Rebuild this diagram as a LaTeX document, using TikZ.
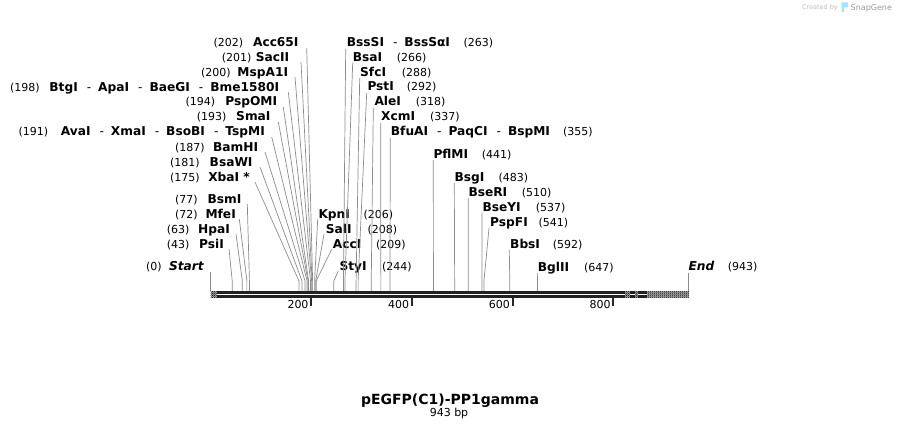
\documentclass[tikz,border=0pt]{standalone}
\usepackage{fontspec}
\setmainfont{DejaVu Sans}
\usetikzlibrary{patterns}
\pgfdeclarepatternformonly{finecheck}{\pgfqpoint{0pt}{0pt}}{\pgfqpoint{2pt}{2pt}}{\pgfqpoint{2pt}{2pt}}{%
  \pgfpathrectangle{\pgfqpoint{0pt}{0pt}}{\pgfqpoint{1pt}{1pt}}%
  \pgfpathrectangle{\pgfqpoint{1pt}{1pt}}{\pgfqpoint{1pt}{1pt}}%
  \pgfusepath{fill}}
\newcommand\sepd{\hspace{9pt}{\mdseries -}\hspace{7pt}}
\newcommand\Lsite[9]{%
  \node[nm,anchor=base east] (#1) at (#3,#2) {#4};
  \node[num,anchor=base west] (#1n) at (#5,#2) {(#6)};
  \coordinate (#1t) at (#7,#8);
  \coordinate (#1k) at ({210.5+0.5055*#9},281);
  \coordinate (#1b) at ({210.5+0.5055*#9},290.8);
  \draw[cut] (#1t) -- (#1k) -- (#1b);
}
\newcommand\Rsite[9]{%
  \node[nm,anchor=base west] (#1) at (#3,#2) {#4};
  \node[num,anchor=base west] (#1n) at (#5,#2) {(#6)};
  \coordinate (#1t) at (#7,#8);
  \coordinate (#1k) at ({210.5+0.5055*#9},281);
  \coordinate (#1b) at ({210.5+0.5055*#9},290.8);
  \draw[cut] (#1t) -- (#1k) -- (#1b);
}
\newcommand\Tick[1]{%
  \coordinate (tk#1a) at ({210.5+0.5035*#1},297.5);
  \coordinate (tk#1b) at ({210.5+0.5035*#1},305.5);
  \draw[line width=2pt,black!85] (tk#1a) -- (tk#1b);
  \node[num,anchor=base east] (tl#1) at ({208+0.5035*#1},308.3) {#1};
}
\begin{document}
\begin{tikzpicture}[x=1pt,y=-1pt,
  nm/.style={inner sep=0pt,font=\fontsize{12.2}{14}\selectfont\bfseries},
  num/.style={inner sep=0pt,font=\fontsize{11}{13}\selectfont},
  cut/.style={draw=black!45,line width=0.7pt},
  strand/.style={fill=black!87},
  checker/.style={fill=black!35,postaction={pattern=finecheck,pattern color=black!90}}]
\useasboundingbox[fill=white] (0,0) rectangle (899,430);

% left fan
\Lsite{acc}{46.5}{298.7}{Acc65I}{213.3}{202}{306.7}{48.3}{202}
\Lsite{sac}{61.5}{289.3}{SacII}{221.7}{201}{301}{62}{201}
\Lsite{msp}{76.5}{288.3}{MspA1I}{201}{200}{295}{77}{200}
\Lsite{btg}{91.3}{279.3}{BtgI\sepd ApaI\sepd BaeGI\sepd Bme1580I}{10}{198}{288.3}{92}{198}
\Lsite{psp}{106}{277.3}{PspOMI}{185.5}{194}{283.3}{107}{194}
\Lsite{sma}{121}{270.7}{SmaI}{196.7}{193}{278.3}{122}{193}
\Lsite{ava}{136}{265}{AvaI\sepd XmaI\sepd BsoBI\sepd TspMI}{18.3}{191}{271.7}{137}{191}
\Lsite{bam}{151.5}{258.3}{BamHI}{175}{187}{265}{152}{187}
\Lsite{bsa}{166.5}{252.7}{BsaWI}{170}{181}{260}{167}{181}
\Lsite{xba}{181.5}{250}{XbaI *}{170}{175}{255}{182}{175}
% lower left
\Lsite{bsm}{203.5}{241.7}{BsmI}{175}{77}{247.3}{204}{77}
\Lsite{mfe}{218.5}{236}{MfeI}{175}{72}{239.3}{219}{72}
\Lsite{hpa}{233.5}{230}{HpaI}{166.7}{63}{236}{234}{63}
\Lsite{psi}{248.5}{224}{PsiI}{166.7}{43}{229}{249}{43}
\Lsite{start}{270.7}{204}{\itshape Start}{146}{0}{210.5}{272}{0}
% middle
\Rsite{kpn}{218.5}{318.3}{KpnI}{363.3}{206}{317.7}{219}{206}
\Rsite{sal}{233.5}{325.7}{SalI}{367.3}{208}{324}{234.3}{208}
\Rsite{acci}{248.5}{332.7}{AccI}{376}{209}{331.7}{249.3}{209}
\Rsite{sty}{270.7}{339.3}{StyI}{382}{244}{338.3}{271}{244}
% right
\Rsite{bss}{46.5}{346.7}{BssSI\sepd BssSαI}{463.3}{263}{345.7}{49}{263}
\Rsite{bsai}{61.5}{352.7}{BsaI}{396.7}{266}{352.7}{63}{266}
\Rsite{sfc}{76.5}{360}{SfcI}{401.7}{288}{359.7}{78}{288}
\Rsite{pst}{91}{367.3}{PstI}{406.7}{292}{366.7}{93}{292}
\Rsite{ale}{106}{374.3}{AleI}{415.7}{318}{373.3}{108}{318}
\Rsite{xcm}{121}{381}{XcmI}{430}{337}{380.7}{123}{337}
\Rsite{bfu}{135.5}{390.7}{BfuAI\sepd PaqCI\sepd BspMI}{563}{355}{390.3}{138}{355}
\Rsite{pfl}{158.3}{433.3}{PflMI}{481.7}{441}{433.3}{160}{441}
\Rsite{bsg}{181.7}{454.3}{BsgI}{498.3}{483}{454.3}{183}{483}
\Rsite{bser}{196.7}{468.3}{BseRI}{521.7}{510}{468.3}{198}{510}
\Rsite{bsey}{211.7}{482.3}{BseYI}{535.7}{537}{482}{213}{537}
\Rsite{pspf}{226.7}{490}{PspFI}{538.3}{541}{489}{228}{541}
\Rsite{bbs}{249}{510}{BbsI}{552.7}{592}{509.3}{250}{592}
\Rsite{bgl}{271.7}{537.7}{BglII}{584}{647}{537.3}{273}{647}
% end
\node[nm,anchor=base west] (endl) at (688.3,270.7) {\itshape End};
\node[num,anchor=base west] (endn) at (727.7,270.7) {(943)};
\coordinate (endt) at (688,273);
\coordinate (endb) at (688,290.8);
\draw[cut] (endt) -- (endb);

% sequence bar
\fill[strand] (210.5,291) rectangle (689,293.7);
\fill[strand] (210.5,294.7) rectangle (689,297.5);
\path[checker] (210.5,291) rectangle (216.7,297.5);
\path[checker] (625,291) rectangle (630,297.5);
\path[checker] (635,291) rectangle (638.3,297.5);
\path[checker] (646.7,291) rectangle (689,297.5);

% ruler
\Tick{200}
\Tick{400}
\Tick{600}
\Tick{800}

% title
\node[inner sep=0pt,anchor=base,font=\fontsize{14}{16}\selectfont\bfseries] (title) at (450,404) {pEGFP(C1)-PP1gamma};
\node[num,anchor=base] (len) at (449,416.7) {943 bp};

% watermark
\node[inner sep=0pt,anchor=base east,text=black!25,font=\fontsize{6.5}{8}\selectfont] (crby) at (838,10) {Created by};
\fill[cyan!35] (841.5,2.5) rectangle (844,12) (844,2.5) rectangle (848,7.5);
\node[inner sep=0pt,anchor=base west,text=black!40,font=\fontsize{8}{10}\selectfont] (sg) at (850.5,10.5) {SnapGene};
\end{tikzpicture}
\end{document}
